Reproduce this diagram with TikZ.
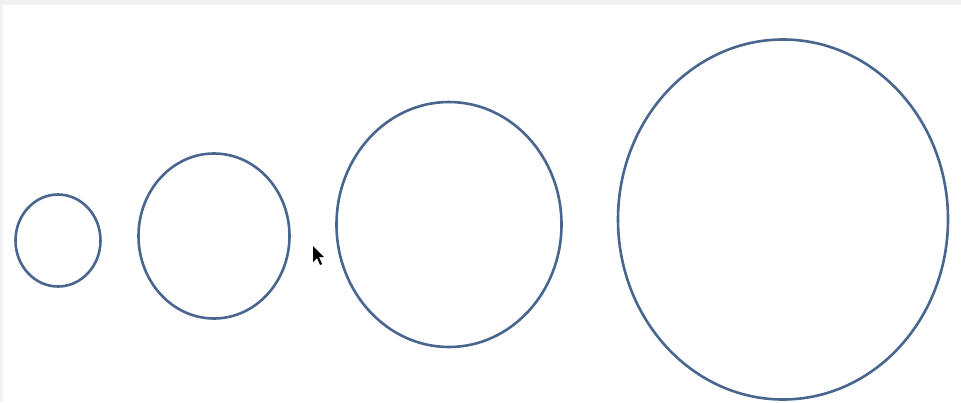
\documentclass[tikz,border=0pt]{standalone}
\usetikzlibrary{shapes.geometric}
\definecolor{ringblue}{RGB}{72,102,142}
\definecolor{framegray}{RGB}{242,242,242}
\begin{document}
\begin{tikzpicture}[x=1pt,y=-1pt,
  ring/.style={ellipse,draw=ringblue,line width=2.6pt,inner sep=0pt,fill=none}]
\fill[framegray] (0,0) rectangle (961,402);
\fill[white] (3,5) rectangle (961,402);
\useasboundingbox (0,0) rectangle (961,402);
\node[ring,minimum width=85pt,minimum height=92pt] (c1) at (58,240.5) {};
\node[ring,minimum width=151pt,minimum height=165pt] (c2) at (214,236) {};
\node[ring,minimum width=225pt,minimum height=245pt] (c3) at (449,224.5) {};
\node[ring,minimum width=330pt,minimum height=360pt] (c4) at (783,219.5) {};
% mouse pointer
\fill[black] (313,246) -- (313,262) -- (317,258) -- (320,265) -- (322,264) -- (319,257) -- (324,257) -- cycle;
\end{tikzpicture}
\end{document}
